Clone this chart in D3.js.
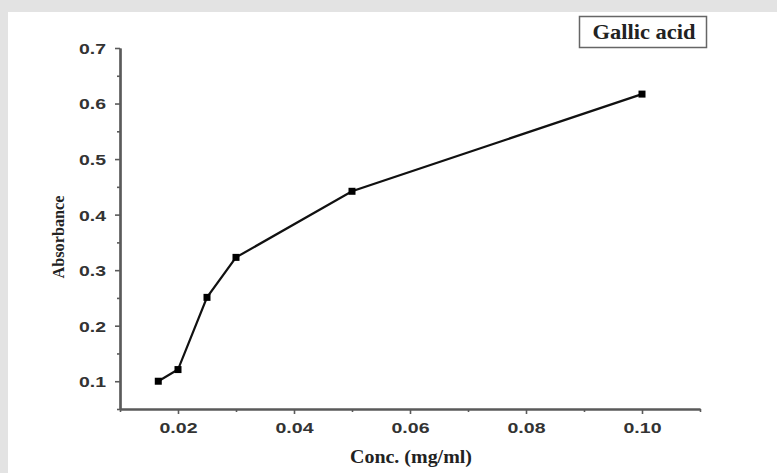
<!DOCTYPE html>
<html><head><meta charset="utf-8">
<script src="https://cdn.jsdelivr.net/npm/d3@7"></script>
<style>
html,body{margin:0;padding:0;background:#e3e3e3;}
svg{display:block;}
</style></head><body>
<script>
const concentrations = [0.0166, 0.02, 0.025, 0.03, 0.05, 0.10];
const absorbance = [0.100, 0.121, 0.251, 0.323, 0.442, 0.617];
const xTicks = [0.02, 0.04, 0.06, 0.08, 0.10];
const xMinorTicks = [0.01, 0.03, 0.05, 0.07, 0.09, 0.11];
const yTicks = [0.1, 0.2, 0.3, 0.4, 0.5, 0.6, 0.7];
const yMinorTicks = [0.05, 0.15, 0.25, 0.35, 0.45, 0.55, 0.65];
const legendLabel = "Gallic acid";
const xTitle = "Conc. (mg/ml)";
const yTitle = "Absorbance";

const W = 777, H = 473;
const svg = d3.select("body").append("svg").attr("width", W).attr("height", H);
svg.append("rect").attr("x", 0).attr("y", 0).attr("width", W).attr("height", H).attr("fill", "#e3e3e3");
svg.append("rect").attr("x", 8).attr("y", 12).attr("width", W - 8).attr("height", H - 12).attr("fill", "#ffffff");

const x = d3.scaleLinear().domain([0.01, 0.11]).range([120, 700]);
const y = d3.scaleLinear().domain([0.05, 0.7]).range([409, 48]);

const axisColor = "#5a5a5a";
const tickFont = "'Liberation Sans', Arial, sans-serif";

// x axis
const gx = svg.append("g").attr("transform", "translate(0,409)");
gx.call(d3.axisBottom(x).tickValues(xTicks).tickFormat(d3.format(".2f")).tickSize(5).tickSizeOuter(0));
gx.append("g").call(d3.axisBottom(x).tickValues(xMinorTicks).tickFormat("").tickSize(3).tickSizeOuter(0));
// y axis
const gy = svg.append("g").attr("transform", "translate(120,0)");
gy.call(d3.axisLeft(y).tickValues(yTicks).tickFormat(d3.format(".1f")).tickSize(5).tickSizeOuter(0));
gy.append("g").call(d3.axisLeft(y).tickValues(yMinorTicks).tickFormat("").tickSize(3).tickSizeOuter(0));

svg.selectAll(".domain").attr("stroke", axisColor).attr("stroke-width", 2.2);
svg.selectAll(".tick line").attr("stroke", axisColor).attr("stroke-width", 1.6);
svg.selectAll(".tick text").attr("fill", "#333").attr("font-family", tickFont)
  .attr("font-weight", "bold").attr("font-size", "15px").attr("lengthAdjust", "spacingAndGlyphs");
gx.selectAll(".tick text").attr("y", 24).attr("dy", null).attr("textLength", 38);
gy.selectAll(".tick text").attr("x", -14).attr("dy", "0.36em").attr("textLength", 27);

// line
const pts = concentrations.map((c, i) => [c, absorbance[i]]);
svg.append("path").datum(pts)
  .attr("d", d3.line().x(d => x(d[0])).y(d => y(d[1])))
  .attr("fill", "none").attr("stroke", "#111").attr("stroke-width", 2.2);
svg.selectAll("rect.pt").data(pts).enter().append("rect").attr("class", "pt")
  .attr("x", d => x(d[0]) - 3.5).attr("y", d => y(d[1]) - 3.5)
  .attr("width", 7).attr("height", 7).attr("fill", "#000");

// axis titles
const serif = "'Liberation Serif', 'Times New Roman', serif";
svg.append("text").attr("x", 411).attr("y", 463).attr("text-anchor", "middle")
  .attr("font-family", serif).attr("font-weight", "bold").attr("font-size", "18px")
  .attr("textLength", 122).attr("lengthAdjust", "spacingAndGlyphs")
  .attr("fill", "#222").text(xTitle);
svg.append("text").attr("transform", "translate(64,237) rotate(-90)").attr("text-anchor", "middle")
  .attr("font-family", serif).attr("font-weight", "bold").attr("font-size", "17px")
  .attr("textLength", 83).attr("lengthAdjust", "spacingAndGlyphs")
  .attr("fill", "#222").text(yTitle);

// legend box
svg.append("rect").attr("x", 579.5).attr("y", 16.5).attr("width", 127).attr("height", 31)
  .attr("fill", "#fff").attr("stroke", "#666").attr("stroke-width", 1.5);
svg.append("text").attr("x", 644).attr("y", 39).attr("text-anchor", "middle")
  .attr("font-family", serif).attr("font-weight", "bold").attr("font-size", "21px")
  .attr("textLength", 103).attr("lengthAdjust", "spacingAndGlyphs")
  .attr("fill", "#222").text(legendLabel);
</script>
</body></html>
